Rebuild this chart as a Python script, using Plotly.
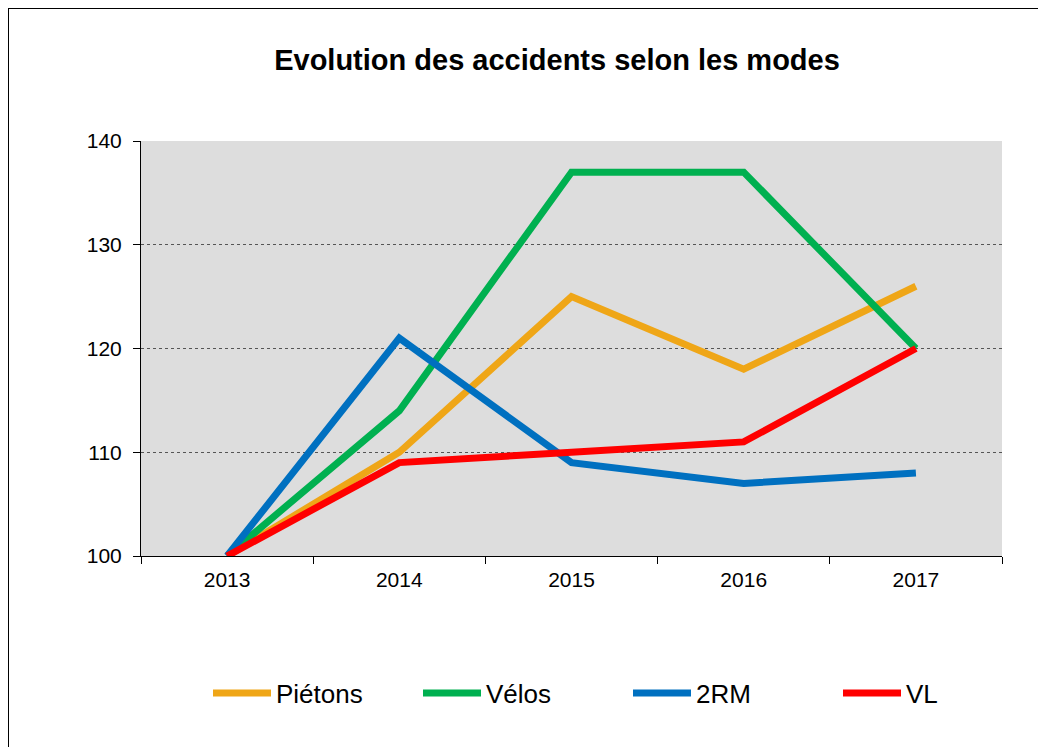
"""Evolution des accidents selon les modes (base 100 en 2013)"""
import plotly.graph_objects as go

years = ["2013", "2014", "2015", "2016", "2017"]
pietons = [100, 110, 125, 118, 126]
velos = [100, 114, 137, 137, 120]
deux_rm = [100, 121, 109, 107, 108]
vl = [100, 109, 110, 111, 120]

series = [
    ("Piétons", pietons, "#EFA617"),
    ("Vélos", velos, "#00B050"),
    ("2RM", deux_rm, "#0070C0"),
    ("VL", vl, "#FF0000"),
]

W, H = 1038, 739          # page body has an 8px margin
L, R, T, B = 133, 44, 133, 191
PW, PH = W - L - R, H - T - B

fig = go.Figure()
for name, values, color in series:
    fig.add_trace(go.Scatter(
        x=years, y=values, name=name, mode="lines",
        line=dict(color=color, width=7),
    ))

fig.update_layout(
    width=W, height=H,
    margin=dict(l=L, r=R, t=T, b=B),
    paper_bgcolor="white",
    plot_bgcolor="#DDDDDD",
    font=dict(family="Liberation Sans, Arial, sans-serif", color="black", size=21),
    title=dict(
        text="<b>Evolution des accidents selon les modes</b>",
        x=549 / W, xanchor="center", xref="container",
        y=1 - 52 / H, yanchor="middle",
        font=dict(size=29),
    ),
    showlegend=True,
    legend=dict(
        orientation="h",
        xref="container", yref="container",
        x=200 / W, xanchor="left",
        y=1 - 685 / H, yanchor="middle",
        font=dict(size=26),
        itemwidth=58,
        entrywidth=137, entrywidthmode="pixels",
        bgcolor="rgba(0,0,0,0)",
    ),
)

fig.update_xaxes(
    type="category",
    range=[-0.5, 4.5],
    tickson="boundaries",
    ticks="outside", ticklen=7, tickcolor="black",
    showline=True, linecolor="black", linewidth=1,
    showgrid=False,
    ticklabelstandoff=5,
)
fig.update_yaxes(
    range=[100, 140], dtick=10,
    ticks="outside", ticklen=7, tickcolor="black",
    showline=True, linecolor="black", linewidth=1,
    showgrid=True, gridcolor="#555555", gridwidth=1, griddash="dot",
    zeroline=False,
    ticklabelstandoff=7,
)

# partial frame around the chart area (top and left edges only)
fx, fy = (0 - L) / PW, (PH + T - 0) / PH
fig.add_shape(type="line", xref="paper", yref="paper",
              x0=fx, x1=1.2, y0=fy, y1=fy,
              line=dict(color="black", width=2))
fig.add_shape(type="line", xref="paper", yref="paper",
              x0=fx, x1=fx, y0=fy, y1=-0.6,
              line=dict(color="black", width=2))

fig.write_html("out.html")
